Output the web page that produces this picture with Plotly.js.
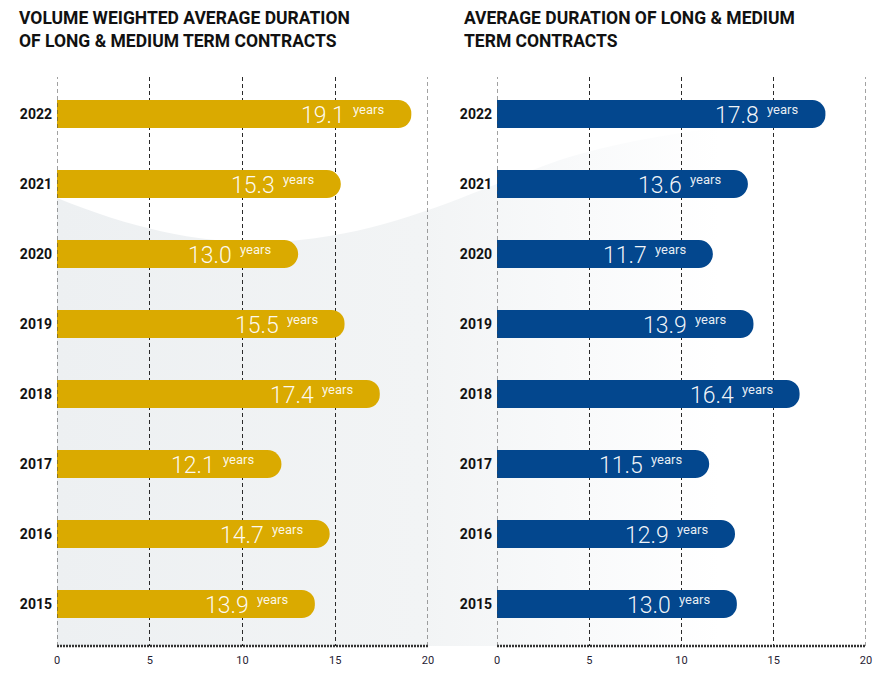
<!DOCTYPE html>
<html>
<head>
<meta charset="utf-8">
<script src="https://cdn.plot.ly/plotly-3.0.1.min.js"></script>
<style>html,body{margin:0;padding:0;background:#fff;}#chart{width:891px;height:676px;}</style>
</head>
<body>
<div id="chart"></div>
<script>
// ---- data ----
const years = ['2022','2021','2020','2019','2018','2017','2016','2015'];
const volumeWeighted = [19.1, 15.3, 13.0, 15.5, 17.4, 12.1, 14.7, 13.9];
const averageDuration = [17.8, 13.6, 11.7, 13.9, 16.4, 11.5, 12.9, 13.0];
const xTicks = [0, 5, 10, 15, 20];
const titleLeft = 'VOLUME WEIGHTED AVERAGE DURATION<br>OF LONG & MEDIUM TERM CONTRACTS';
const titleRight = 'AVERAGE DURATION OF LONG & MEDIUM<br>TERM CONTRACTS';
const unitLabel = 'years';

// ---- styling ----
const GOLD = '#DAAA00';
const BLUE = '#03478E';
const W = 891, H = 676, B = 30;
const PH = H - B; // paper height
const FONT = 'Roboto, "Open Sans", sans-serif';
const GRID_DASH = '4px,3px';
const GRID_COLOR = '#2a2a2a';

function px2x(p){ return p / W; }
function px2y(p){ return (PH - p) / PH; }

const catOrder = years.slice().reverse();

function barTrace(vals, color, xa, ya){
  return {
    type: 'bar', orientation: 'h',
    x: vals, y: years,
    xaxis: xa, yaxis: ya,
    width: 0.4,
    marker: {color: color, cornerradius: 14, line: {width: 0}},
    hoverinfo: 'skip', showlegend: false
  };
}

const traces = [
  barTrace(volumeWeighted, GOLD, 'x', 'y'),
  barTrace(averageDuration, BLUE, 'x2', 'y2')
];

function xaxisCfg(domain, anchor){
  return {
    domain: domain, anchor: anchor, range: [0, 20],
    tickvals: xTicks, ticktext: xTicks.map(String),
    showgrid: true, gridcolor: GRID_COLOR, gridwidth: 1, griddash: GRID_DASH,
    zeroline: false, showline: false, ticks: '',
    ticklabelstandoff: 6,
    tickfont: {family: FONT, size: 11, color: '#1f2233'},
    fixedrange: true
  };
}
function yaxisCfg(anchor){
  return {
    domain: [0, px2y(77)], anchor: anchor, type: 'category',
    categoryorder: 'array', categoryarray: catOrder,
    range: [-0.6, 7.53],
    showgrid: false, zeroline: false, showline: false, ticks: '',
    ticklabelstandoff: 4,
    tickfont: {family: FONT, size: 14, color: '#111', weight: 'bold'},
    fixedrange: true
  };
}

const annotations = [];
function addLabels(vals, xa, ya){
  vals.forEach((v, i) => {
    const yi = catOrder.indexOf(years[i]);
    annotations.push({
      xref: xa, yref: ya, x: v, y: yi,
      text: v.toFixed(1), showarrow: false,
      xanchor: 'right', yanchor: 'middle', xshift: -64, yshift: -1,
      font: {family: FONT, size: 23, color: 'rgba(255,255,255,0.95)', weight: 300}
    });
    annotations.push({
      xref: xa, yref: ya, x: v, y: yi,
      text: unitLabel, showarrow: false,
      xanchor: 'right', yanchor: 'middle', xshift: -25, yshift: 5,
      font: {family: FONT, size: 13, color: 'rgba(255,255,255,0.92)', weight: 400}
    });
  });
}
addLabels(volumeWeighted, 'x', 'y');
addLabels(averageDuration, 'x2', 'y2');

annotations.push({
  xref: 'paper', yref: 'paper', x: px2x(17), y: px2y(6),
  xanchor: 'left', yanchor: 'top', align: 'left', showarrow: false,
  text: titleLeft,
  font: {family: FONT, size: 17.5, color: '#111', weight: 'bold'}
});
annotations.push({
  xref: 'paper', yref: 'paper', x: px2x(462), y: px2y(6),
  xanchor: 'left', yanchor: 'top', align: 'left', showarrow: false,
  text: titleRight,
  font: {family: FONT, size: 17.5, color: '#111', weight: 'bold'}
});

// heavy dotted baseline + edge grid lines for each panel
const shapes = [];
[['x','y domain'],['x2','y2 domain']].forEach(([xr, yr]) => {
  shapes.push({type: 'line', xref: xr, yref: yr, x0: xTicks[0], x1: xTicks[xTicks.length-1], y0: 0, y1: 0,
    line: {color: '#333', width: 2.5, dash: '2px,1px'}});
  [xTicks[0], xTicks[xTicks.length-1]].forEach(t => {
    shapes.push({type: 'line', xref: xr, yref: yr, x0: t, x1: t, y0: 0, y1: 1,
      line: {color: '#444', width: 1, dash: GRID_DASH}});
  });
});

// decorative background swoosh
const svg = '<svg xmlns="http://www.w3.org/2000/svg" width="891" height="646" viewBox="0 0 891 646" preserveAspectRatio="none">' +
  '<defs><linearGradient id="g" gradientUnits="userSpaceOnUse" x1="57" y1="0" x2="720" y2="0">' +
  '<stop offset="0" stop-color="#edf0f2"/><stop offset="0.55" stop-color="#f2f4f5"/>' +
  '<stop offset="0.8" stop-color="#f9fafb"/><stop offset="1" stop-color="#ffffff"/></linearGradient></defs>' +
  '<path d="M57,198 C150,236 230,248 300,240 C400,230 470,192 560,160 C630,138 720,124 891,110 L891,646 L57,646 Z" fill="url(#g)"/></svg>';

const layout = {
  width: W, height: H,
  margin: {l: 0, r: 0, t: 0, b: B, pad: 0},
  paper_bgcolor: '#ffffff', plot_bgcolor: 'rgba(0,0,0,0)',
  font: {family: FONT},
  bargap: 0.6,
  xaxis: xaxisCfg([px2x(57), px2x(428)], 'y'),
  yaxis: yaxisCfg('x'),
  xaxis2: xaxisCfg([px2x(497), px2x(866)], 'y2'),
  yaxis2: yaxisCfg('x2'),
  annotations: annotations,
  shapes: shapes,
  images: [{
    source: 'data:image/svg+xml;charset=utf-8,' + encodeURIComponent(svg),
    xref: 'paper', yref: 'paper', x: 0, y: 1, sizex: 1, sizey: 1,
    xanchor: 'left', yanchor: 'top', sizing: 'stretch', layer: 'below'
  }]
};

Plotly.newPlot('chart', traces, layout, {displayModeBar: false, staticPlot: true});
</script>
</body>
</html>
